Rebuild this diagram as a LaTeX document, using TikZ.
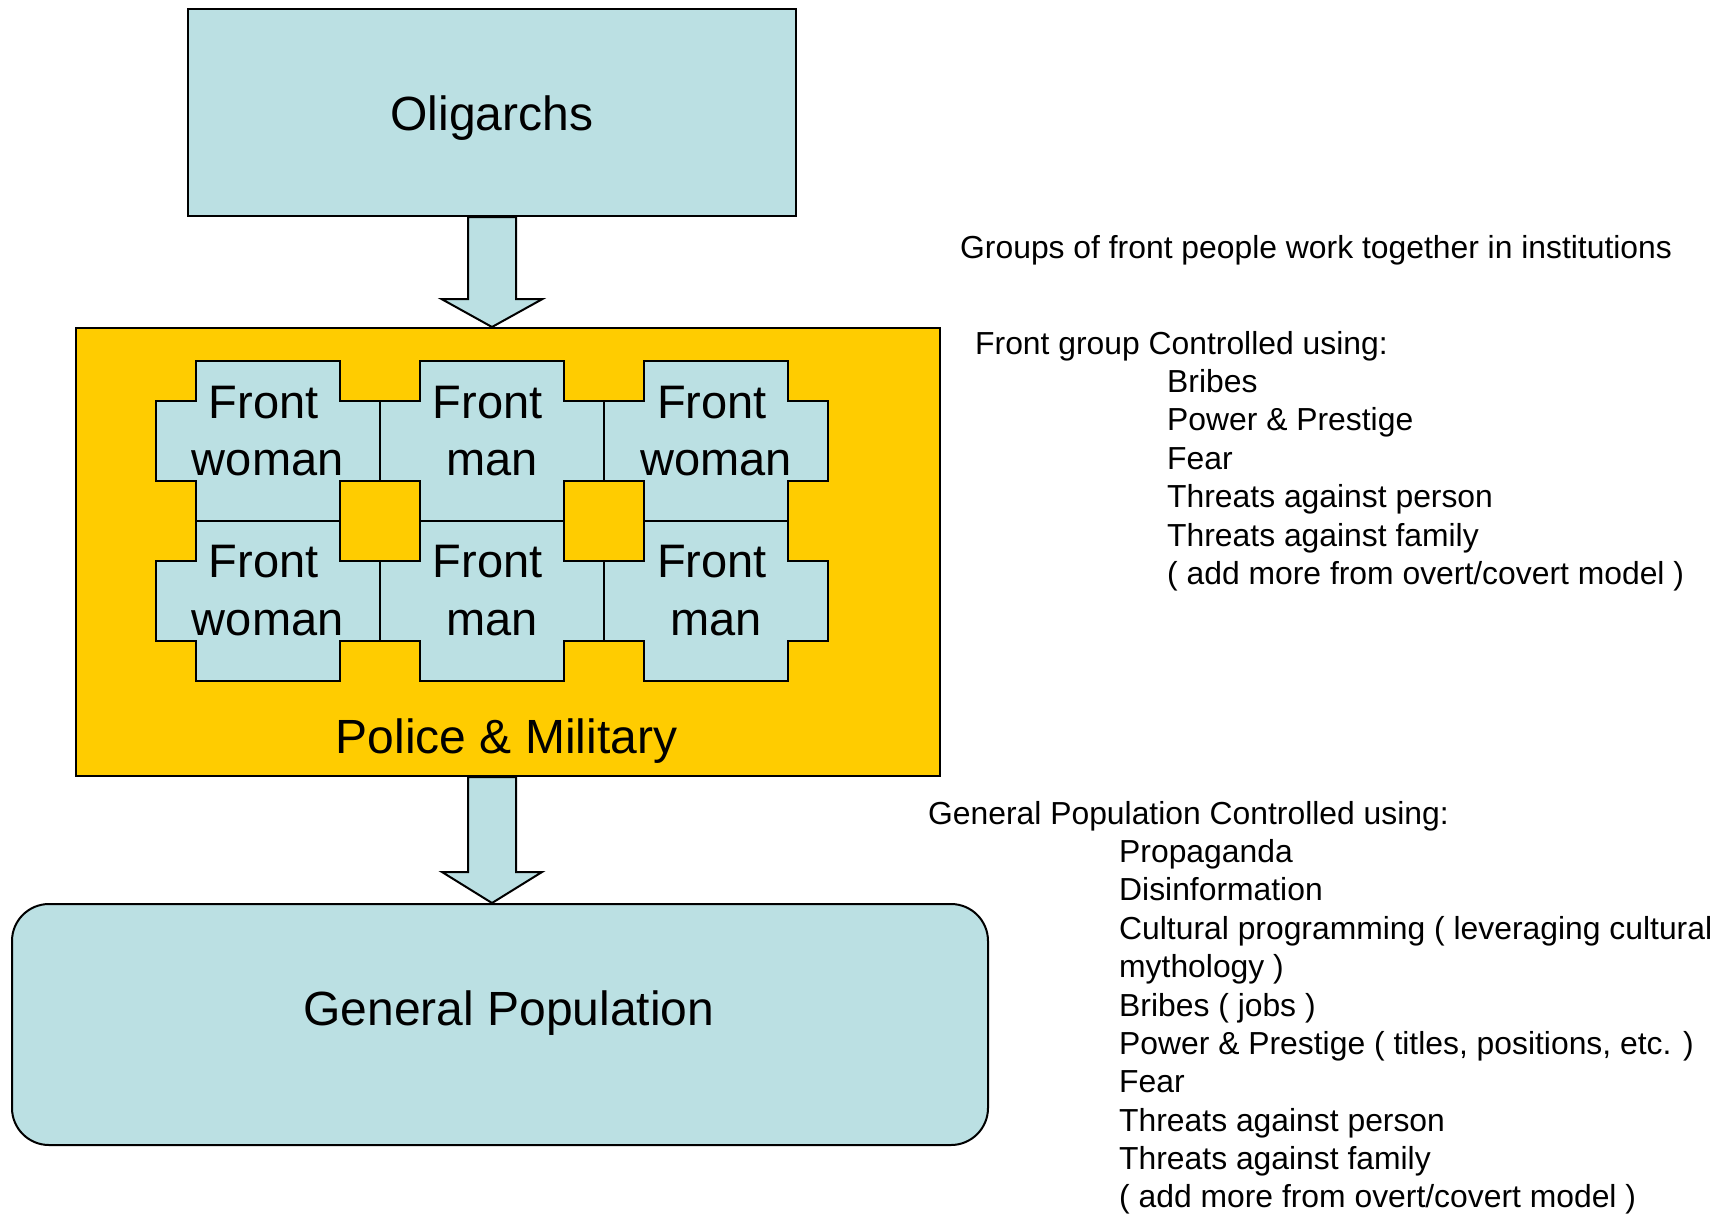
\documentclass[tikz,border=0pt]{standalone}
\usepackage{fontspec}
\setmainfont{Liberation Sans}
\usetikzlibrary{calc}
\definecolor{pblue}{HTML}{BBE0E3}
\definecolor{pyellow}{HTML}{FFCC00}
\begin{document}
\begin{tikzpicture}[x=1pt,y=-1pt,
  bluebox/.style={draw=black, line width=2pt, fill=pblue, inner sep=0pt},
  yellowbox/.style={draw=black, line width=2pt, fill=pyellow, inner sep=0pt},
  blockarrow/.style={draw=black, line width=2pt, fill=pblue, line join=miter},
  piece/.style={draw=black, line width=2pt, fill=pblue},
  biglbl/.style={font=\fontsize{47}{57}\selectfont, inner sep=0pt, anchor=base},
  boxlbl/.style={font=\fontsize{48}{57}\selectfont, inner sep=0pt, anchor=base},
  smalllbl/.style={font=\fontsize{31.85}{38.4}\selectfont, inner sep=0pt, anchor=base west},
]
\useasboundingbox (0,0) rectangle (1721,1213);

% main boxes
\node[bluebox, minimum width=608pt, minimum height=207pt] (olig) at (492,112.5) {};
\node[yellowbox, minimum width=864pt, minimum height=448pt] (police) at (508,552) {};
\node[bluebox, rounded corners=37pt, minimum width=976pt, minimum height=241pt] (genpop) at (500,1024.5) {};

% puzzle pieces
\foreach \c in {0,1,2}{
  \foreach \r in {0,1}{
    \pgfmathsetmacro\L{155.6+224.1*\c}
    \pgfmathsetmacro\T{360.7+160*\r}
    \draw[piece] (\L+40.1,\T) -- (\L+184,\T) -- (\L+184,\T+40) -- (\L+224.1,\T+40)
      -- (\L+224.1,\T+120) -- (\L+184,\T+120) -- (\L+184,\T+160) -- (\L+40.1,\T+160)
      -- (\L+40.1,\T+120) -- (\L,\T+120) -- (\L,\T+40) -- (\L+40.1,\T+40) -- cycle;
  }
}

% piece labels
\node[biglbl] (p1a) at (263.7,418) {Front};
\node[biglbl] (p1b) at (267.7,475) {woman};
\node[biglbl] (p2a) at (487.8,418) {Front};
\node[biglbl] (p2b) at (491.8,475) {man};
\node[biglbl] (p3a) at (711.9,418) {Front};
\node[biglbl] (p3b) at (715.9,475) {woman};
\node[biglbl] (p4a) at (263.7,577) {Front};
\node[biglbl] (p4b) at (267.7,635) {woman};
\node[biglbl] (p5a) at (487.8,577) {Front};
\node[biglbl] (p5b) at (491.8,635) {man};
\node[biglbl] (p6a) at (711.9,577) {Front};
\node[biglbl] (p6b) at (715.9,635) {man};

% block arrows
\coordinate (t1) at (olig.south |- police.north);
\coordinate (s2) at (police.south -| olig.south);
\coordinate (t2) at (olig.south |- genpop.north);
\draw[blockarrow] ($(olig.south)+(-24,0)$) -- ($(t1)+(-24,-28)$) -- ($(t1)+(-50.5,-28)$) -- (t1)
  -- ($(t1)+(50.5,-28)$) -- ($(t1)+(24,-28)$) -- ($(olig.south)+(24,0)$) -- cycle;
\draw[blockarrow] ($(s2)+(-24,0)$) -- ($(t2)+(-24,-31)$) -- ($(t2)+(-50,-31)$) -- (t2)
  -- ($(t2)+(50,-31)$) -- ($(t2)+(24,-31)$) -- ($(s2)+(24,0)$) -- cycle;

% box labels
\node[boxlbl] (tolig) at (492,130.7) {Oligarchs};
\node[boxlbl] (tpol) at (506.5,753) {Police \& Military};
\node[boxlbl] (tgp) at (509,1025) {General Population};

% right-hand text
\node[smalllbl] (groups) at (960,258) {Groups of front people work together in institutions};
\node[smalllbl] (fgh) at (975,354) {Front group Controlled using:};
\node[smalllbl] (fg1) at (1167,392.5) {Bribes};
\node[smalllbl] (fg2) at (1167,430.9) {Power \& Prestige};
\node[smalllbl] (fg3) at (1167,469.3) {Fear};
\node[smalllbl] (fg4) at (1167,507.7) {Threats against person};
\node[smalllbl] (fg5) at (1167,546.1) {Threats against family};
\node[smalllbl] (fg6) at (1167,584.5) {( add more from overt/covert model )};

\node[smalllbl] (gph) at (928,824) {General Population Controlled using:};
\node[smalllbl] (gp1) at (1119,862.4) {Propaganda};
\node[smalllbl] (gp2) at (1119,900.8) {Disinformation};
\node[smalllbl] (gp3) at (1119,939.2) {Cultural programming ( leveraging cultural};
\node[smalllbl] (gp4) at (1119,977.6) {mythology )};
\node[smalllbl] (gp5) at (1119,1016) {Bribes ( jobs )};
\node[smalllbl] (gp6) at (1119,1054.4) {Power \& Prestige ( titles, positions, etc. )};
\node[smalllbl] (gp7) at (1119,1092.8) {Fear};
\node[smalllbl] (gp8) at (1119,1131.2) {Threats against person};
\node[smalllbl] (gp9) at (1119,1169.6) {Threats against family};
\node[smalllbl] (gp10) at (1119,1207.5) {( add more from overt/covert model )};
\end{tikzpicture}
\end{document}
